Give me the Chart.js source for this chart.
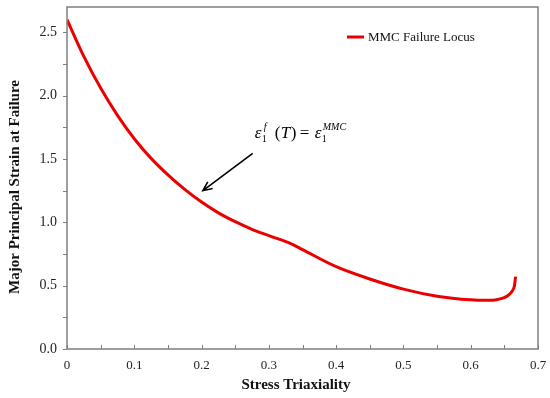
<!DOCTYPE html>
<html><head><meta charset="utf-8">
<script src="https://cdn.jsdelivr.net/npm/chart.js@4/dist/chart.umd.min.js"></script>
<style>html,body{margin:0;padding:0;background:#fff}#wrap{width:550px;height:398px;position:relative}</style>
</head><body><div id="wrap"><canvas id="c"></canvas></div>
<script>
// ---- data ----
const seriesLabel = 'MMC Failure Locus';
const triaxiality = [0, 0.025, 0.05, 0.075, 0.1, 0.125, 0.15, 0.175, 0.2, 0.225, 0.25, 0.275, 0.3, 0.3333, 0.35, 0.4, 0.45, 0.5, 0.55, 0.6, 0.62, 0.64, 0.655, 0.662, 0.665, 0.6667];
const majorStrain = [2.60, 2.31, 2.06, 1.845, 1.66, 1.505, 1.375, 1.26, 1.16, 1.075, 1.005, 0.945, 0.895, 0.83, 0.785, 0.65, 0.553, 0.473, 0.417, 0.388, 0.384, 0.391, 0.42, 0.46, 0.50, 0.571];
const xTickValues = [0, 0.1, 0.2, 0.3, 0.4, 0.5, 0.6, 0.7];
const xTickLabels = ['0', '0.1', '0.2', '0.3', '0.4', '0.5', '0.6', '0.7'];
const yTickValues = [0, 0.5, 1.0, 1.5, 2.0, 2.5];
const yTickLabels = ['0.0', '0.5', '1.0', '1.5', '2.0', '2.5'];
const xMinorTicks = [0, 0.05, 0.1, 0.15, 0.2, 0.25, 0.3, 0.35, 0.4, 0.45, 0.5, 0.55, 0.6, 0.65, 0.7];
const yMinorTicks = [0, 0.25, 0.5, 0.75, 1.0, 1.25, 1.5, 1.75, 2.0, 2.25, 2.5];
const xTitle = 'Stress Triaxiality';
const yTitle = 'Major Principal Strain at Failure';
const arrowTail = {x: 0.276, y: 1.545};
const arrowHead = {x: 0.202, y: 1.25};
const labelAnchor = {x: 0.279, y: 1.665};

const SERIF = '"Liberation Serif", "Times New Roman", serif';
const RED = 'rgb(235,0,0)';

const points = triaxiality.map((x, i) => ({x, y: majorStrain[i]}));

const decor = {
  id: 'decor',
  afterDatasetsDraw(chart) {
    const ctx = chart.ctx, a = chart.chartArea;
    const xs = chart.scales.x, ys = chart.scales.y;
    ctx.save();
    // frame
    ctx.strokeStyle = '#7f7f7f';
    ctx.lineWidth = 1.5;
    ctx.strokeRect(a.left, a.top, a.right - a.left, a.bottom - a.top);
    // ticks
    ctx.beginPath();
    yMinorTicks.forEach(v => { const py = Math.round(ys.getPixelForValue(v)) + 0.5; ctx.moveTo(a.left - 4, py); ctx.lineTo(a.left, py); });
    xMinorTicks.forEach(v => { const px = Math.round(xs.getPixelForValue(v)) + 0.5; ctx.moveTo(px, a.bottom); ctx.lineTo(px, a.bottom - 4); });
    ctx.lineWidth = 1;
    ctx.stroke();

    // axis titles
    ctx.fillStyle = '#111';
    ctx.font = 'bold 15px ' + SERIF;
    ctx.textAlign = 'center';
    ctx.textBaseline = 'middle';
    ctx.fillText(xTitle, 296, 385);
    ctx.save();
    ctx.translate(15, 187);
    ctx.rotate(-Math.PI / 2);
    ctx.fillText(yTitle, 0, 0);
    ctx.restore();

    // legend
    ctx.strokeStyle = RED;
    ctx.lineWidth = 3;
    ctx.beginPath();
    ctx.moveTo(347, 37); ctx.lineTo(364, 37);
    ctx.stroke();
    ctx.fillStyle = '#111';
    ctx.font = '13px ' + SERIF;
    ctx.textAlign = 'left';
    ctx.textBaseline = 'middle';
    ctx.fillText(chart.data.datasets[0].label, 368, 38);

    // arrow
    const tx = xs.getPixelForValue(arrowTail.x), ty = ys.getPixelForValue(arrowTail.y);
    const hx = xs.getPixelForValue(arrowHead.x), hy = ys.getPixelForValue(arrowHead.y);
    ctx.strokeStyle = '#000';
    ctx.lineWidth = 1.6;
    ctx.beginPath();
    ctx.moveTo(tx, ty); ctx.lineTo(hx, hy);
    const ang = Math.atan2(ty - hy, tx - hx);
    const L = 10, sp = 0.42;
    ctx.moveTo(hx + L * Math.cos(ang + sp), hy + L * Math.sin(ang + sp));
    ctx.lineTo(hx, hy);
    ctx.lineTo(hx + L * Math.cos(ang - sp), hy + L * Math.sin(ang - sp));
    ctx.stroke();

    // equation label
    let x0 = xs.getPixelForValue(labelAnchor.x), b = ys.getPixelForValue(labelAnchor.y);
    ctx.fillStyle = '#000';
    ctx.textBaseline = 'alphabetic';
    ctx.textAlign = 'left';
    const big = 'italic 17px ' + SERIF, bigUp = '17px ' + SERIF;
    const small = '10px ' + SERIF, smallIt = 'italic 10px ' + SERIF;
    ctx.font = big; ctx.fillText('ε', x0, b);
    ctx.font = small; ctx.fillText('1', x0 + 7, b + 4);
    ctx.font = smallIt; ctx.fillText('f', x0 + 9, b - 8);
    ctx.font = bigUp; ctx.fillText('(', x0 + 20, b);
    ctx.font = big; ctx.fillText('T', x0 + 26, b);
    ctx.font = bigUp; ctx.fillText(')', x0 + 36, b);
    ctx.font = bigUp; ctx.fillText('=', x0 + 45, b);
    ctx.font = big; ctx.fillText('ε', x0 + 60, b);
    ctx.font = small; ctx.fillText('1', x0 + 67, b + 4);
    ctx.font = smallIt; ctx.fillText('MMC', x0 + 68, b - 8);
    ctx.restore();
  }
};

new Chart(document.getElementById('c'), {
  type: 'scatter',
  data: {
    datasets: [{
      label: seriesLabel,
      data: points,
      showLine: true,
      borderColor: RED,
      backgroundColor: RED,
      borderWidth: 3,
      pointRadius: 0,
      cubicInterpolationMode: 'monotone'
    }]
  },
  options: {
    responsive: true,
    maintainAspectRatio: false,
    animation: false,
    layout: {padding: {top: 7, right: 12, left: 0, bottom: 0}},
    plugins: {legend: {display: false}, tooltip: {enabled: false}},
    scales: {
      x: {
        type: 'linear', min: 0, max: 0.7,
        afterBuildTicks: s => { s.ticks = xTickValues.map(v => ({value: v})); },
        afterFit: s => { s.height = 49; s.paddingLeft = 0; s.paddingRight = 0; },
        grid: {display: false, drawTicks: false},
        border: {display: false},
        ticks: {
          padding: 9, color: '#222', font: {family: SERIF, size: 13},
          maxRotation: 0, autoSkip: false,
          callback: (v, i) => xTickLabels[i]
        }
      },
      y: {
        type: 'linear', min: 0, max: 2.7,
        afterBuildTicks: s => { s.ticks = yTickValues.map(v => ({value: v})); },
        afterFit: s => { s.width = 67; s.paddingTop = 0; s.paddingBottom = 0; },
        grid: {display: false, drawTicks: false},
        border: {display: false},
        ticks: {
          padding: 10, color: '#222', font: {family: SERIF, size: 14},
          autoSkip: false,
          callback: (v, i) => yTickLabels[i]
        }
      }
    }
  },
  plugins: [decor]
});
</script>
</body></html>
